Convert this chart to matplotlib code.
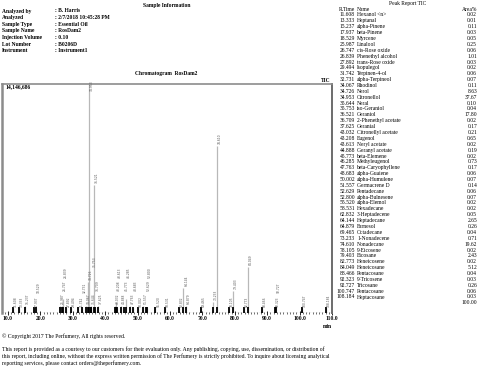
import matplotlib
matplotlib.use("Agg")
import matplotlib.pyplot as plt
import numpy as np

plt.rcParams['font.family'] = ['Liberation Serif', 'DejaVu Serif']

# ---------------- data ----------------
info_labels = ["Analyzed by", "Analyzed", "Sample Type", "Sample Name",
               "Injection Volume", "Lot Number", "Instrument"]
info_values = [": B. Harris", ": 2/7/2018 10:45:28 PM", ": Essential Oil",
               ": RosDam2", ": 0.10", ": B0206D", ": Instrument1"]

rtimes = [11.608, 13.333, 15.237, 17.937, 18.529, 25.987, 26.747, 26.839,
          27.892, 29.494, 31.742, 32.731, 34.067, 34.726, 34.953, 35.644,
          35.753, 36.521, 36.709, 37.625, 43.032, 43.208, 43.613, 44.888,
          45.773, 46.285, 47.763, 48.683, 50.002, 51.557, 52.629, 52.800,
          55.520, 58.531, 62.832, 64.144, 64.879, 69.465, 73.233, 74.610,
          78.105, 79.403, 82.773, 84.049, 88.466, 92.323, 92.727, 100.747,
          108.184]
names = ["Hexanol <n>", "Heptanal", "alpha-Pinene", "beta-Pinene", "Myrcene",
         "Linalool", "cis-Rose oxide", "Phenethyl alcohol", "trans-Rose oxide",
         "Isopulegol", "Terpinen-4-ol", "alpha-Terpineol", "Rhodinol", "Nerol",
         "Citronellol", "Neral", "iso-Geraniol", "Geraniol",
         "2-Phenethyl acetate", "Geranial", "Citronellyl acetate", "Eugenol",
         "Neryl acetate", "Geranyl acetate", "beta-Elemene", "Methyleugenol",
         "beta-Caryophyllene", "alpha-Guaiene", "alpha-Humulene",
         "Germacrene D", "Pentadecane", "alpha-Bulnesene", "alpha-Elemol",
         "Hexadecane", "3-Heptadecene", "Heptadecane", "Farnesol",
         "Octadecane", "1-Nonadecene", "Nonadecane", "9-Eicosene", "Eicosane",
         "Heneicosene", "Heneicosane", "Pentacosane", "9-Tricosene",
         "Tricosane", "Pentacosane", "Heptacosane"]
areas = [0.02, 0.01, 0.11, 0.03, 0.05, 0.25, 0.06, 1.01, 0.03, 0.02, 0.06,
         0.07, 0.11, 8.63, 37.67, 0.10, 0.04, 17.80, 0.02, 0.17, 0.21, 0.65,
         0.02, 0.19, 0.02, 0.73, 0.17, 0.06, 0.07, 0.14, 0.06, 0.07, 0.02,
         0.02, 0.05, 2.65, 0.26, 0.04, 0.71, 19.62, 0.02, 2.43, 0.02, 5.12,
         0.04, 0.03, 0.26, 0.06, 0.03]
# relative peak heights (1.0 = 14,146,686)
heights = [0.02, 0.02, 0.03, 0.02, 0.02, 0.03, 0.03, 0.06, 0.02, 0.02, 0.02,
           0.02, 0.03, 0.135, 1.0, 0.03, 0.02, 0.56, 0.02, 0.03, 0.03, 0.05,
           0.02, 0.03, 0.02, 0.06, 0.03, 0.02, 0.02, 0.03, 0.02, 0.02, 0.02,
           0.02, 0.02, 0.11, 0.03, 0.02, 0.05, 0.73, 0.02, 0.096, 0.02, 0.20,
           0.02, 0.02, 0.03, 0.02, 0.02]
total_area = "100.00"
xticks = [10, 20, 30, 40, 50, 60, 70, 80, 90, 100, 110]

W, H = 480, 372
fig = plt.figure(figsize=(4.8, 3.72), dpi=100)

def fx(px):
    return px / W

def fy(py):
    return 1 - py / H

FS = 4.0
# ---------------- header ----------------
fig.text(fx(167), fy(5), "Sample Information", ha='center', va='center',
         fontsize=FS, fontweight='bold')
for i, (lab, val) in enumerate(zip(info_labels, info_values)):
    y = 11 + i * 6.6
    fig.text(fx(2), fy(y), lab, ha='left', va='center', fontsize=FS, fontweight='bold')
    fig.text(fx(55), fy(y), val, ha='left', va='center', fontsize=FS, fontweight='bold')

fig.text(fx(166), fy(74), "Chromatogram  RosDam2", ha='center', va='center',
         fontsize=FS, fontweight='bold')

# ---------------- chromatogram ----------------
ax = fig.add_axes([fx(2), fy(313), fx(330), 229 / H])
ax.set_xlim(8.15, 110)
ax.set_ylim(0, 1.0)
LBL_LEN = 0.052   # label length in axis units
LBL_W = 1.25      # label width in minutes
placed = []       # (x, y0, y1)
for rt, h in zip(rtimes, heights):
    ax.vlines(rt, 0, h, color='#b8b8b8', lw=0.9, zorder=2)
    ax.vlines(rt, 0, 0.025, color='black', lw=1.3, zorder=3)
    xl = rt + 0.9
    y0 = min(h, 0.96) + 0.008
    moved = True
    while moved:
        moved = False
        for (px, p0, p1) in placed:
            if abs(px - xl) < LBL_W and y0 < p1 + 0.004 and y0 + LBL_LEN > p0 - 0.004:
                y0 = p1 + 0.006
                moved = True
    placed.append((xl, y0, y0 + LBL_LEN))
    ax.text(xl, y0, f"{rt:.3f}", rotation=90,
            ha='center', va='bottom', fontsize=2.2, color='#555555',
            fontfamily='DejaVu Sans')
ax.axhline(0, color='black', lw=0.8, ls=(0, (2, 1)), zorder=4)
ax.set_xticks(xticks)
ax.set_xticklabels([f"{t:.1f}" for t in xticks], fontsize=FS, fontweight='bold')
ax.set_xticks(np.arange(9, 111, 1), minor=True)
ax.tick_params(axis='x', which='major', length=3, width=0.6, pad=0.5, direction='inout')
ax.tick_params(axis='x', which='minor', length=1.5, width=0.4, direction='inout')
ax.set_yticks([])
ax.spines['left'].set_color('#8c8c8c')
ax.spines['left'].set_linewidth(1.8)
ax.spines['top'].set_color('#8c8c8c')
ax.spines['top'].set_linewidth(1.2)
ax.spines['right'].set_color('#6c6c6c')
ax.spines['right'].set_linewidth(1.4)
ax.spines['bottom'].set_visible(False)
ax.patch.set_alpha(0)

fig.text(fx(5), fy(87), "14,146,686", ha='left', va='center', fontsize=FS, fontweight='bold')
fig.text(fx(326), fy(81), "TIC", ha='center', va='center', fontsize=FS, fontweight='bold')
fig.text(fx(327), fy(327), "min", ha='center', va='center', fontsize=FS, fontweight='bold')

# ---------------- peak table ----------------
fig.text(fx(408), fy(4), "Peak Report TIC", ha='center', va='center', fontsize=FS)
fig.text(fx(355), fy(9.5), "R.Time", ha='right', va='center', fontsize=FS)
fig.text(fx(357), fy(9.5), "Name", ha='left', va='center', fontsize=FS)
fig.text(fx(477), fy(9.5), "Area%", ha='right', va='center', fontsize=FS)
step = (297 - 15) / (len(rtimes) - 1)
for i, (rt, nm, ar) in enumerate(zip(rtimes, names, areas)):
    y = 15 + i * step
    fig.text(fx(355), fy(y), f"{rt:.3f}", ha='right', va='center', fontsize=FS)
    fig.text(fx(357), fy(y), nm, ha='left', va='center', fontsize=FS)
    fig.text(fx(477), fy(y), f"{ar:.2f}", ha='right', va='center', fontsize=FS)
fig.text(fx(477), fy(297 + step), total_area, ha='right', va='center', fontsize=FS)

# ---------------- footer ----------------
fig.text(fx(2), fy(336), "\u00a9 Copyright 2017 The Perfumery, All rights reserved.",
         ha='left', va='center', fontsize=4.1)
footer = ["This report is provided as a courtesy to our customers for their evaluation only. Any publishing, copying, use, dissemination, or distribution of",
          "this report, including online, without the express written permission of The Perfumery is strictly prohibited. To inquire about licensing analytical",
          "reporting services, please contact orders@theperfumery.com."]
for i, line in enumerate(footer):
    fig.text(fx(2), fy(349 + i * 7), line, ha='left', va='center', fontsize=4.1)

fig.savefig("out.png", dpi=100)
